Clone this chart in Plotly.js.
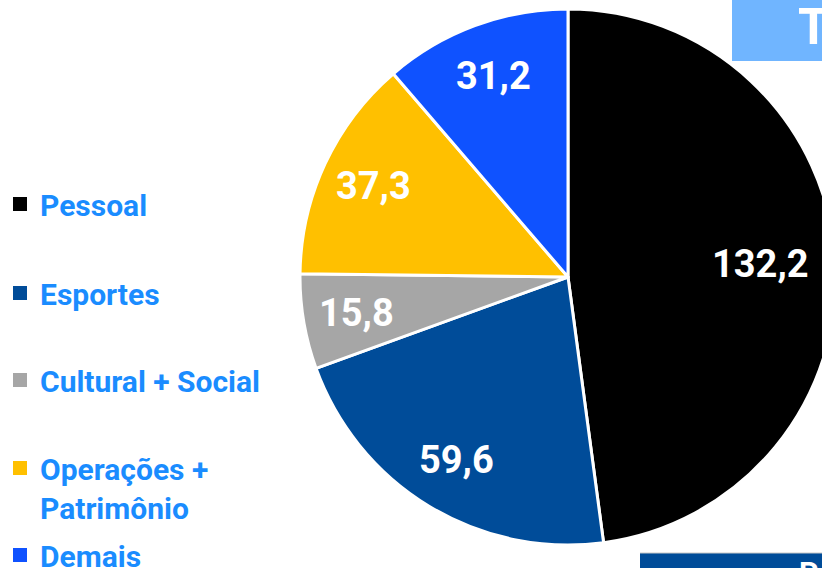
<!DOCTYPE html>
<html>
<head>
<meta charset="utf-8">
<script src="https://cdn.plot.ly/plotly-3.0.1.min.js"></script>
<style>
  html, body { margin: 0; padding: 0; overflow: hidden; background: #ffffff; width: 822px; height: 568px; }
  #chart { width: 900px; height: 568px; }
</style>
</head>
<body>
<div id="chart"></div>
<script>
// ---- data ----
const categories = ["Pessoal", "Esportes", "Cultural + Social", "Operações +<br>Patrimônio", "Demais"];
const values = [132.2, 59.6, 15.8, 37.3, 31.2];
const valueLabels = ["132,2", "59,6", "15,8", "37,3", "31,2"];
const sliceColors = ["#000000", "#004c99", "#a6a6a6", "#ffc000", "#0f52ff"];
const legendLineCenters = [206, 295, 382, 470, 557]; // px from top, layout only

const W = 900, H = 568, VIEW_W = 822;
const cx = 568, cy = 277, R = 268;
const labelFontSize = 38;

const pie = {
  type: "pie",
  values: values,
  labels: categories,
  textinfo: "none",
  sort: false,
  direction: "clockwise",
  rotation: 0,
  marker: { colors: sliceColors, line: { color: "#ffffff", width: 3 } },
  domain: { x: [(cx - R) / W, (cx + R) / W], y: [1 - (cy + R) / H, 1 - (cy - R) / H] },
  showlegend: false,
  hoverinfo: "label+value"
};

// value labels placed along each slice's mid-angle (derived from the values)
const total = values.reduce(function (a, b) { return a + b; }, 0);
const labelAnnotations = [];
let acc = 0;
values.forEach(function (v, i) {
  const mid = (acc + v / 2) / total * 2 * Math.PI;
  acc += v;
  const halfW = valueLabels[i].length * labelFontSize * 0.27;
  let r = 0.8 * R;
  const s = Math.sin(mid);
  if (s > 0 && cx + r * s + halfW > VIEW_W - 10) r = (VIEW_W - 10 - halfW - cx) / s;
  const px = cx + r * s, py = cy - r * Math.cos(mid);
  labelAnnotations.push({
    text: valueLabels[i], xref: "paper", yref: "paper", x: px / W, y: 1 - py / H,
    xanchor: "center", yanchor: "middle", showarrow: false,
    font: { family: "Roboto, sans-serif", size: labelFontSize, color: "#ffffff", weight: 700 }
  });
});

const legendFont = { family: "Roboto, sans-serif", size: 30, color: "#1a8cff", weight: 700 };
const traces = [pie];
const layout = {
  width: W, height: H,
  margin: { l: 0, r: 0, t: 0, b: 0, autoexpand: false },
  paper_bgcolor: "#ffffff", plot_bgcolor: "#ffffff",
  xaxis: { visible: false }, yaxis: { visible: false },
  shapes: [
    { type: "rect", xref: "paper", yref: "paper", x0: 732 / W, x1: 1, y0: 1 - 61 / H, y1: 1, fillcolor: "#70b5ff", line: { width: 0 }, layer: "below" },
    { type: "rect", xref: "paper", yref: "paper", x0: 640 / W, x1: 1, y0: 0, y1: 1 - 553 / H, fillcolor: "#004c99", line: { width: 0 }, layer: "below" },
    { type: "line", xref: "paper", yref: "paper", x0: 640 / W, x1: 1, y0: 1 - 553 / H, y1: 1 - 553 / H, line: { width: 1, color: "#c8c8c8" } }
  ],
  annotations: labelAnnotations.concat([
    { text: "Total", xref: "paper", yref: "paper", x: 796 / W, y: 1 + 4 / H, xanchor: "left", yanchor: "top", showarrow: false,
      font: { family: "Roboto, sans-serif", size: 50, color: "#ffffff", weight: 700 } },
    { text: "Por", xref: "paper", yref: "paper", x: 797 / W, y: 1 - 553 / H, xanchor: "left", yanchor: "top", showarrow: false,
      font: { family: "Roboto, sans-serif", size: 30, color: "#ffffff", weight: 700 } }
  ])
};

categories.forEach(function (name, i) {
  const key = i === 0 ? "legend" : "legend" + (i + 1);
  traces.push({
    type: "scatter", mode: "markers", x: [null], y: [null], name: name,
    marker: { symbol: "square", size: 14, color: sliceColors[i] },
    legend: key, showlegend: true, hoverinfo: "skip"
  });
  layout[key] = {
    x: 0, xanchor: "left", y: 1 - (legendLineCenters[i] - 28) / H, yanchor: "top",
    bgcolor: "rgba(0,0,0,0)", borderwidth: 0, valign: "top", itemwidth: 30,
    font: legendFont
  };
});

Plotly.newPlot("chart", traces, layout, { displayModeBar: false, staticPlot: true });
</script>
</body>
</html>
